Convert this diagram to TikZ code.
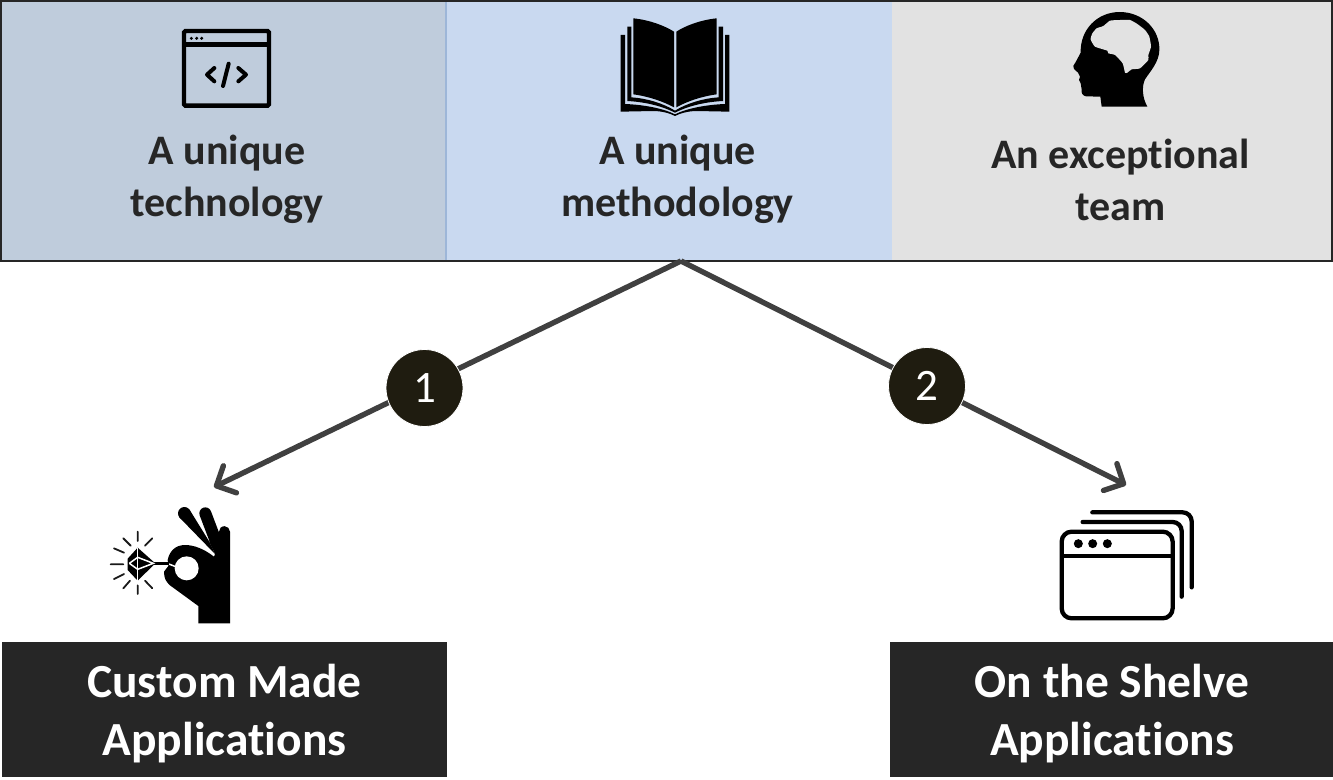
\documentclass[tikz,border=0pt]{standalone}
\usepackage{fontspec}
\setmainfont{Carlito}[Ligatures=NoCommon]
\usetikzlibrary{arrows.meta}
\definecolor{cellA}{HTML}{BFCCDC}
\definecolor{cellB}{HTML}{C9D9F0}
\definecolor{cellC}{HTML}{E2E2E2}
\definecolor{divi}{HTML}{9DB6D8}
\definecolor{dark}{HTML}{262626}
\definecolor{badge}{HTML}{1F1C10}
\definecolor{conn}{HTML}{404040}
\tikzset{
  cell/.style={draw=none,minimum height=260pt,inner sep=0pt,outer sep=0pt,rectangle},
  celltext/.style={font=\fontsize{42}{51.5}\selectfont\bfseries,align=center,text=black!85,inner sep=0pt},
  darkbox/.style={fill=dark,minimum height=135pt,inner sep=0pt,outer sep=0pt,rectangle,text=white,align=center,font=\fontsize{47.5}{58}\selectfont\bfseries},
  darktext/.style={text=white,align=center,inner sep=0pt,font=\fontsize{47.5}{58}\selectfont\bfseries},
  badgecirc/.style={circle,fill=badge,draw=white,line width=0.8pt,minimum size=77pt,inner sep=0pt,text=white,font=\fontsize{45}{47}\selectfont},
  connector/.style={draw=conn,line width=5.4pt,-{Straight Barb[length=15pt,width=30pt,round,line width=5.4pt]}},
  icon/.style={x=0.33333pt,y=-0.33333pt,shift={(#1)}},
}
\begin{document}
\begin{tikzpicture}[x=1pt,y=-1pt]
\useasboundingbox (0,0) rectangle (1333,779);
% top cells
\node[cell,fill=cellA,minimum width=446pt] (cA) at (223,131) {};
\node[cell,fill=cellB,minimum width=446pt] (cB) at (669,131) {};
\node[cell,fill=cellC,minimum width=441pt] (cC) at (1112.5,131) {};
\draw[divi,line width=2pt] (cB.north west) -- (cB.south west);
\draw[black!85,line width=1.6pt] (0,1.2) -- (1333,1.2);
\draw[black!85,line width=1.6pt] (0,261) -- (1333,261);
\draw[black!85,line width=1.6pt] (0.8,1.2) -- (0.8,261);
\draw[black!85,line width=1.6pt] (1332.2,1.2) -- (1332.2,261);
\node[celltext] (tA) at (227,179.5) {A unique\\technology};
\node[celltext] (tB) at (677.5,179.5) {A unique\\methodology};
\node[celltext] (tC) at (1120.5,180) {An exceptional\\team};
% connectors
\coordinate (apex) at (681,261);
\coordinate (tipL) at (214,487);
\coordinate (tipR) at (1126,485);
\draw[connector] (apex) -- (tipL);
\draw[connector] (apex) -- (tipR);
\node[badgecirc] (b1) at (424.5,388) {1};
\node[badgecirc] (b2) at (927,386) {2};
% bottom boxes
\node[darkbox,minimum width=445pt] (dL) at (224.5,709.5) {};
\node[darkbox,minimum width=443pt] (dR) at (1111.5,709.5) {};
\node[darktext] (dLt) at (224.5,714) {Custom Made\\Applications};
\node[darktext] (dRt) at (1112,714) {On the Shelve\\Applications};
% code window icon
\begin{scope}[icon={150pt,0pt}]
  \draw[black,line width=4.4pt,rounded corners=1.5pt] (102,93) rectangle (357,317);
  \draw[black,line width=4.4pt] (102,134) -- (357,134);
  \fill[black] (124,115) circle[radius=5] (140,115) circle[radius=5] (155,115) circle[radius=5];
  \draw[black,line width=4pt,line cap=round,line join=round] (193,204) -- (171,224) -- (193,244);
  \draw[black,line width=4pt,line cap=round,line join=round] (265,204) -- (288,224) -- (265,244);
  \draw[black,line width=4pt,line cap=round] (236,191) -- (219,258);
\end{scope}
% book icon
\begin{scope}[icon={600pt,0pt}]
  \fill[black] (100,55) .. controls (150,60) and (195,78) .. (222,95) -- (222,322) .. controls (190,305) and (150,290) .. (100,283) -- cycle;
  \fill[black] (350,55) .. controls (300,60) and (255,78) .. (229,95) -- (229,322) .. controls (260,305) and (300,290) .. (350,283) -- cycle;
  \fill[black] (82,80) -- (94,80) -- (94,292) .. controls (140,295) and (190,310) .. (225,332) .. controls (260,310) and (310,295) .. (356,292) -- (356,80) -- (369,80) -- (369,303) .. controls (310,306) and (260,320) .. (225,338) .. controls (190,320) and (140,306) .. (82,303) -- cycle;
  \fill[black] (62,105) -- (75,105) -- (75,312) .. controls (130,314) and (190,325) .. (225,343) .. controls (260,325) and (320,314) .. (375,312) -- (375,105) -- (388,105) -- (388,335) -- (290,333) .. controls (265,333) and (240,340) .. (225,348) .. controls (210,340) and (185,333) .. (160,333) -- (62,335) -- cycle;
\end{scope}
% head icon
\begin{scope}[icon={1050pt,0pt}]
  \fill[black] (292,320) -- (155,320) -- (151,290) -- (108,289) .. controls (98,287) and (93,280) .. (95,268) -- (92,250) -- (87,240) -- (90,230) -- (84,218) -- (72,207) .. controls (67,200) and (70,195) .. (76,188) -- (92,158) .. controls (90,90) and (140,37) .. (208,36) .. controls (280,36) and (330,90) .. (328,150) .. controls (328,185) and (300,215) .. (285,238) .. controls (274,262) and (278,295) .. (292,320) -- cycle;
  \fill[cellC] plot[smooth cycle,tension=0.3] coordinates {(122,118) (127,100) (140,85) (160,78) (180,62) (210,60) (240,60) (262,72) (285,90) (298,110) (303,140) (295,165) (295,180) (270,205) (245,208) (232,218) (225,218) (218,190) (195,165) (175,160) (172,152) (135,140)};
\end{scope}
% hand with gem
\begin{scope}[icon={90pt,-480pt}]
  \fill[black] (325,430) -- (420,430) -- (420,155) -- (385,165) -- (358,185) -- (375,222) -- (372,230) .. controls (340,205) and (310,195) .. (285,195) .. controls (255,195) and (238,215) .. (233,240) -- (235,258) -- (222,275) .. controls (222,295) and (228,305) .. (240,316) -- (325,378) -- cycle;
  \fill[black] (268,112) -- (298,88) -- (358,185) -- (375,222) -- cycle;
  \fill[black] (283,100) circle[radius=19];
  \draw[black,line width=12pt,line cap=round] (346,100) -- (382,195);
  \draw[black,line width=11pt,line cap=round] (403,155) -- (403,200);
  \fill[white] (290,265) circle[radius=36];
  \draw[white,line width=1.5pt] (234,251) -- (262,262);
  \fill[black] (143,203) -- (188,243) -- (196,250) -- (143,302) -- (113,270) -- (113,236) -- cycle;
  \draw[black,line width=3.5pt] (190,250) -- (236,250);
  \draw[white,line width=1.5pt] (143,203) -- (143,302);
  \draw[white,line width=1.5pt] (118,250) -- (143,232) -- (190,250) -- (143,268) -- (118,250);
  \draw[black!90,line width=1.8pt,line cap=round]
    (143,155) -- (143,183) (143,316) -- (143,342)
    (62,253) -- (100,253)
    (100,175) -- (122,197) (187,175) -- (165,197)
    (72,205) -- (102,218) (72,297) -- (102,282)
    (100,325) -- (120,302) (187,325) -- (165,302);
\end{scope}
% stacked windows icon
\begin{scope}[icon={1040pt,-480pt}]
  \draw[black,line width=4.3pt,rounded corners=10pt] (65,155) rectangle (398,415);
  \draw[black,line width=4.3pt] (65,228) -- (398,228);
  \fill[black] (115,191) circle[radius=13.5] (158,191) circle[radius=13.5] (202,191) circle[radius=13.5];
  \draw[black,line width=4.3pt,line cap=round,rounded corners=9pt] (128,126) -- (425,126) -- (425,350);
  \draw[black,line width=4.3pt,line cap=round,rounded corners=9pt] (157,97) -- (455,97) -- (455,322);
\end{scope}
\end{tikzpicture}
\end{document}
